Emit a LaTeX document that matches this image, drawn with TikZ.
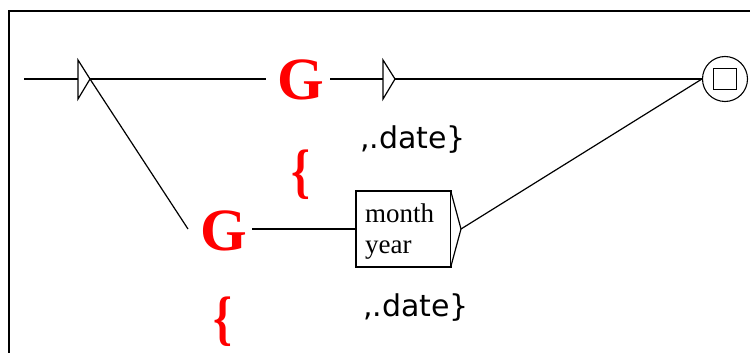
\documentclass[tikz,border=0pt]{standalone}
\usepackage{fontspec}
\newfontfamily\gfont{Liberation Serif}
\newfontfamily\boxfont{Liberation Serif}
\newfontfamily\lblfont{DejaVu Sans}
\begin{document}
\begin{tikzpicture}[x=1pt,y=-1pt,
  ln/.style={line width=1.2pt,black},
  gsym/.style={text=red,font=\gfont\bfseries\fontsize{60}{60}\selectfont,inner sep=0pt},
  brace/.style={text=red,font=\gfont\bfseries\fontsize{60}{60}\selectfont,inner sep=0pt,xscale=0.8},
  lbl/.style={font=\lblfont\fontsize{30}{30}\selectfont,inner sep=0pt,anchor=base west},
  boxtxt/.style={font=\boxfont\fontsize{27}{31}\selectfont,inner sep=0pt,anchor=base west},
  tri/.style={line width=1.2pt,black,fill=white,line join=miter}]
\useasboundingbox (0,0) rectangle (750,353);
% frame (top and left edges)
\draw[line width=1.5pt] (9,353) -- (9,11) -- (750,11);
% named points
\coordinate (start) at (24,79);
\coordinate (t1b) at (78,79);
\coordinate (t1a) at (90,79);
\coordinate (g1l) at (266,79);
\coordinate (g1r) at (330,79);
\coordinate (t2b) at (383,79);
\coordinate (t2a) at (395,79);
\coordinate (g2in) at (188,229);
\coordinate (g2l) at (252,229);
\coordinate (t3a) at (461,229);
% nodes
\node[gsym] (G1) at (301,80) {G};
\node[brace] (B1) at (301,175) {\{};
\node[gsym] (G2) at (224,231) {G};
\node[brace] (B2) at (223,322) {\{};
\node[lbl] (L1) at (360,148) {,.date\}};
\node[lbl] (L2) at (363,316) {,.date\}};
\node[draw,line width=1.2pt,minimum width=95pt,minimum height=76pt,inner sep=0pt] (box) at (403.5,229) {};
\node[boxtxt] (m) at (365,222) {month};
\node[boxtxt] (y) at (365,253) {year};
\node[draw,circle,line width=1.1pt,minimum size=45pt,inner sep=0pt] (fin) at (725,79) {};
\node[draw,line width=1.2pt,minimum width=23pt,minimum height=21pt,inner sep=0pt] (sq) at (725,79) {};
% connectors
\draw[ln] (start) -- (t1b);
\draw[ln] (t1a) -- (g1l);
\draw[ln] (g1r) -- (t2b);
\draw[ln] (t2a) -- (fin.west);
\draw[ln] (t1a) -- (g2in);
\draw[ln] (g2l) -- (box.west);
\draw[ln] (t3a) -- (fin.west);
% triangles
\draw[tri] (78,60) -- (t1a) -- (78,99) -- cycle;
\draw[tri] (383,60) -- (t2a) -- (383,99) -- cycle;
\draw[tri] (451,192) -- (t3a) -- (451,266);
\end{tikzpicture}
\end{document}
